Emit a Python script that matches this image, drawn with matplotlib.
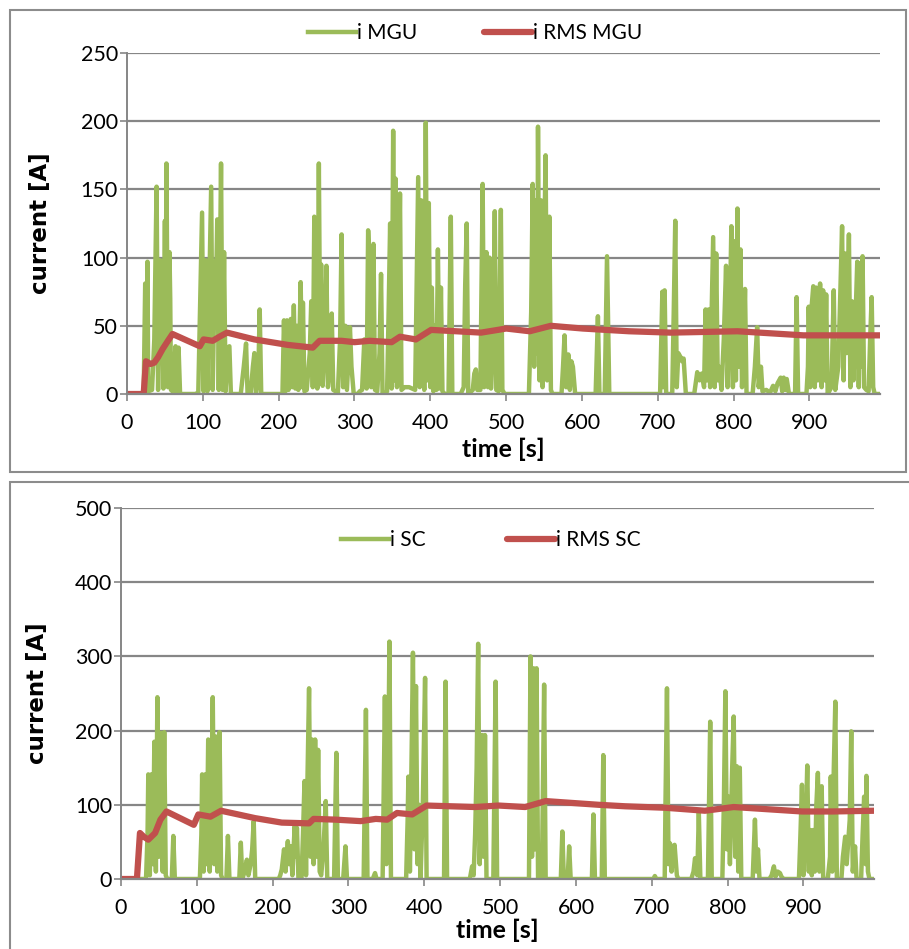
import matplotlib
matplotlib.use("Agg")
import matplotlib.pyplot as plt
from matplotlib.patches import Rectangle

# ---- data ----
# top panel: MGU current
t_mgu = [0, 22, 24, 25, 27, 28, 33, 36, 39, 41, 44, 45, 46, 48, 50, 51, 52, 54, 56, 57, 58, 60, 64, 65, 68, 70,
         90, 94, 97, 99, 101, 104, 106, 111, 113, 116, 117, 119, 121, 124, 126, 128, 130, 133, 135, 137,
         150, 154, 157, 159, 163, 166, 168, 170, 173, 175, 177,
         205, 207, 209, 211, 213, 216, 218, 220, 222, 224, 226, 229, 231, 232, 234,
         237, 241, 243, 245, 247, 249, 251, 253, 255, 256, 258, 261, 263, 265, 268, 270, 272, 275, 278,
         281, 283, 285, 288, 290, 294, 296, 299, 304, 307, 310, 313, 316, 318, 320, 322, 325, 327, 330,
         333, 335, 337, 340, 343, 345, 347, 349, 351, 353, 354, 356, 358, 360, 362, 366, 372, 376, 380,
         382, 384, 386, 388, 390, 392, 394, 396, 398, 400, 402, 404, 406, 408, 410, 412, 414, 416, 419,
         424, 427, 429, 440, 444, 446, 448, 450, 456, 458, 460, 462, 466, 469, 471, 474, 476, 478, 480,
         483, 485, 487, 490, 493, 495, 498, 530, 533, 535, 537, 539, 541, 542, 544, 546, 548, 550, 552,
         554, 557, 559, 561, 573, 575, 577, 579, 582, 584, 586, 588, 591, 618, 621, 623, 630, 633, 636,
         703, 706, 707, 709, 711, 719, 721, 723, 725, 727, 730, 732, 734, 737, 748, 752, 755, 758, 761,
         763, 765, 767, 769, 771, 773, 775, 777, 779, 781, 784, 787, 790, 792, 795, 797, 799, 801, 803,
         805, 807, 809, 811, 813, 815, 817, 825, 828, 831, 833, 836, 838, 843, 848, 852, 855, 858, 862,
         864, 866, 868, 870, 873, 881, 883, 885, 896, 898, 899, 901, 903, 905, 907, 909, 911, 914, 916,
         918, 920, 922, 924, 929, 932, 934, 938, 940, 943, 945, 947, 949, 952, 954, 956, 958, 961, 963,
         965, 967, 969, 970, 972, 975, 978, 980, 982, 984, 986, 993]
i_mgu = [0, 0, 81, 2, 97, 2, 3, 40, 152, 3, 98, 30, 97, 4, 127, 40, 169, 5, 104, 70, 3, 2, 35, 0, 34, 0,
         0, 1, 80, 133, 2, 98, 2, 152, 3, 97, 60, 128, 3, 169, 3, 104, 2, 34, 35, 0,
         0, 20, 37, 0, 0, 20, 30, 0, 10, 62, 0,
         0, 54, 2, 54, 3, 55, 5, 65, 4, 50, 3, 82, 5, 67, 2,
         3, 30, 68, 5, 130, 60, 4, 169, 10, 95, 6, 40, 94, 5, 20, 59, 3, 2, 0,
         40, 117, 5, 50, 3, 49, 20, 0, 0, 2, 3, 40, 4, 120, 90, 5, 110, 3, 2,
         30, 88, 0, 0, 2, 60, 125, 4, 193, 10, 158, 5, 60, 147, 3, 5, 5, 4, 3,
         80, 159, 5, 142, 60, 3, 199, 10, 140, 5, 78, 2, 50, 3, 106, 4, 78, 2, 0,
         0, 130, 0, 0, 5, 80, 125, 0, 3, 15, 18, 3, 3, 154, 5, 104, 5, 100, 4,
         40, 134, 3, 2, 135, 3, 0, 0, 60, 154, 20, 142, 30, 196, 10, 142, 5, 100, 175,
         10, 130, 3, 0, 0, 20, 43, 5, 29, 3, 24, 20, 0, 0, 57, 0, 0, 101, 0,
         0, 75, 5, 76, 0, 0, 60, 127, 5, 30, 27, 24, 26, 0, 0, 16, 10, 15, 5,
         62, 10, 62, 5, 60, 115, 5, 103, 10, 20, 3, 40, 94, 5, 60, 123, 5, 112, 10,
         136, 20, 106, 5, 30, 77, 0, 0, 20, 49, 5, 20, 2, 3, 1, 6, 2, 8, 12,
         2, 12, 3, 11, 0, 0, 71, 0, 0, 20, 64, 5, 65, 79, 5, 78, 10, 81, 5,
         76, 10, 73, 0, 5, 76, 3, 20, 60, 123, 10, 103, 30, 117, 5, 68, 10, 60, 97,
         5, 96, 20, 101, 5, 3, 2, 40, 71, 5, 0, 0]

t_rms_mgu = [0, 22, 25, 31, 36, 41, 47, 54, 60, 96, 101, 113, 122, 132, 168, 212, 245, 254, 283, 300,
             320, 349, 360, 381, 401, 434, 467, 500, 531, 559, 601, 662, 717, 805, 892, 993]
i_rms_mgu = [0, 0, 24, 22, 23, 27, 33, 39, 44, 35, 40, 39, 42, 45, 40, 36, 34, 39, 39, 38,
             39, 38, 42, 40, 47, 46, 45, 48, 46, 50, 48, 46, 45, 46, 43, 43]

# bottom panel: SC current
t_sc = [0, 33, 35, 36, 38, 40, 42, 44, 46, 48, 50, 51, 53, 55, 57, 59, 61, 67, 69, 71,
        104, 106, 107, 109, 111, 113, 115, 117, 119, 121, 123, 125, 127, 130, 132, 134, 139, 141, 143,
        156, 158, 160, 163, 166, 168, 171, 173, 175, 177, 208, 210, 212, 215, 217, 219, 220, 222, 224,
        226, 229, 231, 232, 234, 238, 240, 242, 244, 246, 248, 250, 252, 254, 256, 258, 260, 262, 264,
        267, 270, 272, 281, 284, 286, 293, 296, 298, 320, 323, 325, 332, 335, 337, 345, 347, 348, 350,
        352, 354, 356, 376, 378, 379, 381, 383, 385, 387, 389, 391, 393, 395, 398, 401, 403, 426, 428,
        430, 460, 463, 465, 467, 469, 471, 473, 476, 478, 480, 482, 491, 494, 496, 538, 539, 540, 542,
        544, 546, 548, 550, 555, 558, 560, 580, 582, 584, 589, 591, 593, 621, 623, 625, 634, 636, 638,
        702, 704, 706, 717, 718, 720, 722, 724, 726, 728, 730, 733, 735, 752, 755, 757, 760, 762, 764,
        774, 777, 779, 793, 795, 797, 799, 801, 803, 806, 808, 810, 812, 814, 816, 818, 833, 836, 838,
        840, 842, 855, 858, 861, 863, 866, 869, 871, 874, 894, 896, 898, 900, 903, 905, 907, 909, 911,
        913, 915, 917, 919, 921, 924, 926, 932, 935, 936, 938, 940, 942, 944, 950, 952, 955, 957, 961,
        963, 965, 968, 970, 976, 978, 980, 982, 983, 985, 987, 993]
i_sc = [0, 0, 60, 141, 5, 141, 20, 185, 10, 245, 30, 130, 197, 10, 198, 5, 0, 0, 58, 0,
        0, 60, 141, 10, 141, 20, 188, 10, 100, 245, 20, 192, 10, 198, 5, 0, 0, 58, 0,
        0, 49, 0, 10, 26, 5, 20, 40, 78, 0, 0, 5, 13, 40, 10, 40, 51, 20, 44,
        5, 71, 30, 69, 0, 0, 60, 132, 5, 140, 257, 30, 188, 20, 188, 30, 174, 10, 5,
        40, 105, 0, 0, 170, 0, 0, 44, 0, 0, 228, 0, 0, 8, 0, 0, 170, 246, 20,
        100, 320, 0, 0, 80, 138, 10, 150, 305, 40, 260, 20, 100, 0, 100, 271, 0, 0, 266,
        0, 0, 17, 5, 60, 150, 317, 20, 194, 30, 194, 0, 0, 266, 0, 0, 150, 300, 30,
        284, 40, 284, 0, 0, 262, 0, 0, 64, 0, 0, 44, 0, 0, 87, 0, 0, 167, 0,
        0, 4, 0, 0, 100, 257, 20, 48, 10, 40, 46, 5, 0, 0, 10, 28, 5, 89, 0,
        0, 212, 0, 0, 100, 253, 40, 111, 20, 150, 219, 30, 152, 10, 150, 0, 0, 80, 10,
        40, 0, 0, 5, 17, 3, 10, 8, 3, 0, 0, 60, 127, 5, 70, 153, 10, 66, 5,
        66, 10, 100, 143, 10, 125, 0, 0, 30, 138, 10, 150, 239, 0, 0, 30, 57, 20, 80,
        199, 10, 44, 0, 0, 60, 111, 20, 139, 10, 0, 0]

t_rms_sc = [0, 21, 25, 30, 36, 45, 52, 60, 96, 102, 118, 132, 177, 212, 248, 254, 283, 316,
            336, 351, 364, 384, 403, 467, 498, 533, 560, 630, 665, 718, 770, 808, 898, 938, 993]
i_rms_sc = [0, 0, 62, 57, 53, 62, 80, 91, 73, 87, 84, 92, 82, 76, 75, 81, 80, 78,
            81, 80, 89, 87, 99, 97, 99, 97, 105, 100, 98, 96, 92, 97, 91, 91, 92]

xticks = [0, 100, 200, 300, 400, 500, 600, 700, 800, 900]

GREEN = "#9BBB59"
RED = "#C0504D"
GRID = "#868686"

W, H = 909, 949
fig = plt.figure(figsize=(W / 100, H / 100), dpi=100)


def px_axes(left, top, right, bottom):
    return fig.add_axes([left / W, 1 - bottom / H, (right - left) / W, (bottom - top) / H])


def style(ax, ymax, ystep, xlabelpad, ylabel_x):
    ax.set_xlim(0, 993)
    ax.set_ylim(0, ymax)
    ax.set_xticks(xticks)
    ax.set_yticks(range(0, ymax + 1, ystep))
    ax.yaxis.grid(True, color=GRID, lw=1.6)
    ax.set_axisbelow(True)
    for s in ("top", "right"):
        ax.spines[s].set_visible(False)
    ax.spines["left"].set_color(GRID)
    ax.spines["left"].set_linewidth(1.4)
    ax.spines["bottom"].set_color(GRID)
    ax.spines["bottom"].set_linewidth(1.6)
    ax.tick_params(axis="both", colors=GRID, length=5, width=1.2, labelcolor="black",
                   labelsize=15.5)
    ax.tick_params(axis="x", pad=9)
    ax.tick_params(axis="y", pad=1.5)
    for lab in ax.get_xticklabels() + ax.get_yticklabels():
        lab.set_family("Lato")
    ax.set_ylabel("current [A]", family="DejaVu Sans", fontweight="bold", fontsize=16.5)
    ax.yaxis.set_label_coords(ylabel_x, 0.5)
    ax.set_xlabel("time [s]", family="Lato", fontweight="bold", fontsize=18, labelpad=xlabelpad)


# panel borders
fig.patches.append(Rectangle((10 / W, 1 - 472 / H), 896 / W, 462 / H, transform=fig.transFigure,
                             fill=False, ec="#8c8c8c", lw=1.5))
fig.patches.append(Rectangle((10 / W, 1 - 965 / H), 920 / W, 483 / H, transform=fig.transFigure,
                             fill=False, ec="#8c8c8c", lw=1.5))

legend_kw = dict(loc="center", bbox_transform=fig.transFigure, ncol=2, frameon=False,
                 handlelength=2.3, handletextpad=0.05, prop={"family": "Lato", "size": 15})

# top chart
ax1 = px_axes(127, 53, 880, 394)
ax1.plot(t_mgu, i_mgu, color=GREEN, lw=3.2, label="i MGU", solid_joinstyle="round")
ax1.plot(t_rms_mgu, i_rms_mgu, color=RED, lw=4.5, label="i RMS MGU", solid_capstyle="round")
style(ax1, 250, 50, 3, -0.0996)
ax1.legend(bbox_to_anchor=(475 / W, 1 - 33 / H), columnspacing=3.2, **legend_kw)

# bottom chart
ax2 = px_axes(121, 508, 874, 879)
ax2.plot(t_sc, i_sc, color=GREEN, lw=3.2, label="i SC", solid_joinstyle="round")
ax2.plot(t_rms_sc, i_rms_sc, color=RED, lw=4.5, label="i RMS SC", solid_capstyle="round")
style(ax2, 500, 100, 0, -0.0956)
ax2.legend(bbox_to_anchor=(491 / W, 1 - 540 / H), columnspacing=3.9, **legend_kw)

fig.savefig("out.png", dpi=100)
